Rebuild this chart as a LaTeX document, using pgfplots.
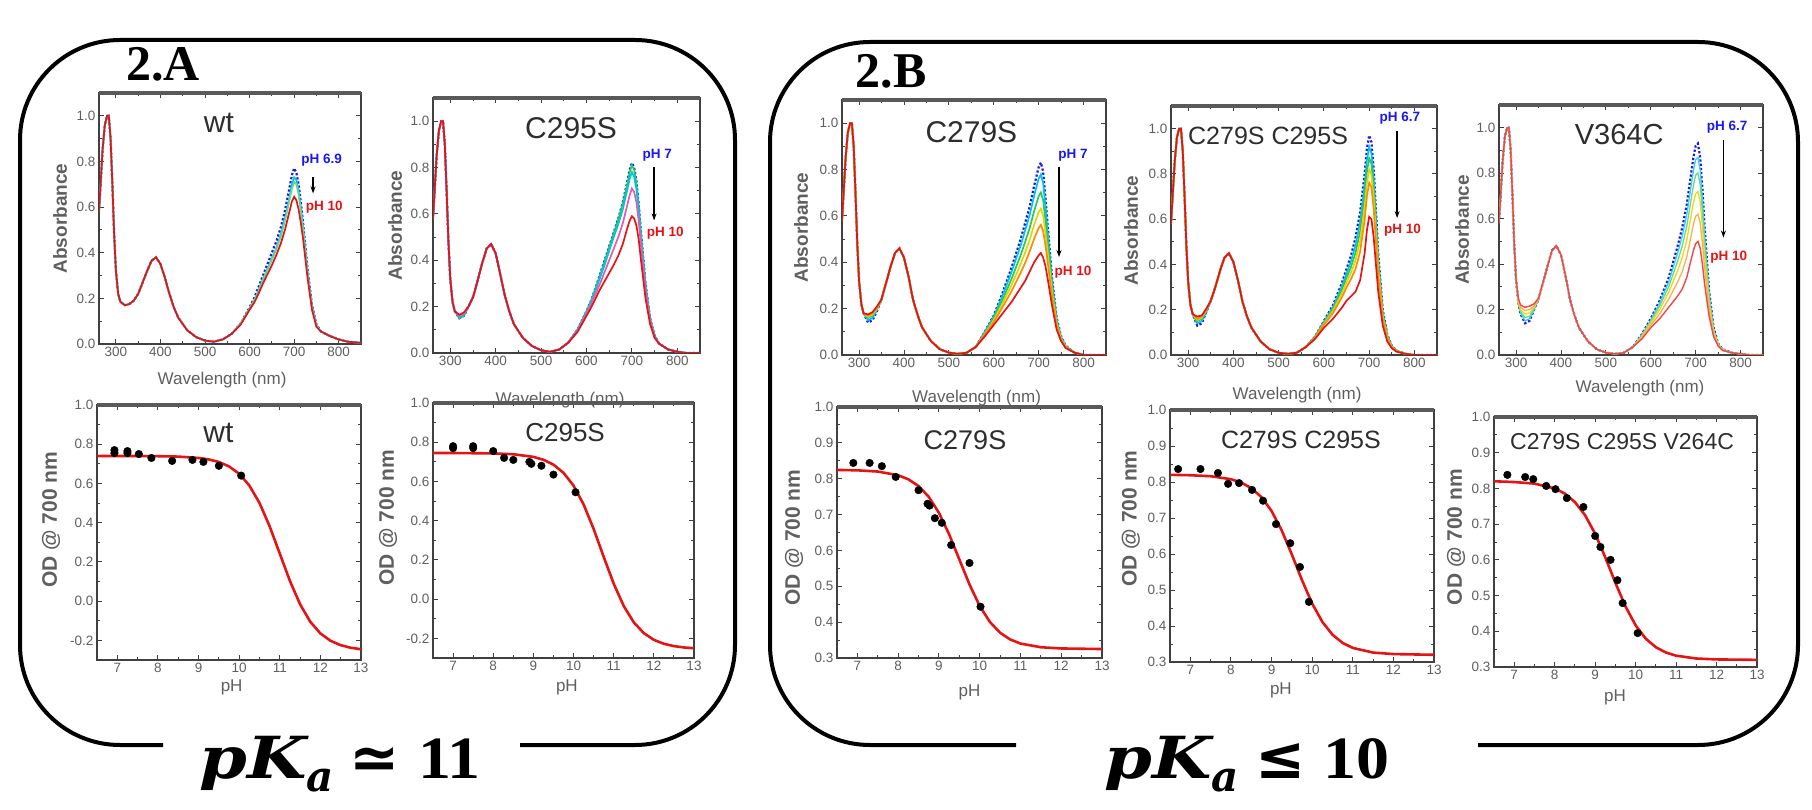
\documentclass[border=0pt]{standalone}
\usepackage{fontspec}
\usepackage{graphicx}
\usepackage{pgfplots}
\pgfplotsset{compat=1.18}
\usepackage{pgfplotstable}
\usetikzlibrary{arrows.meta}
\newfontfamily\arial{Liberation Sans}
\newfontfamily\tnr{Liberation Serif}
\newfontfamily\djv{DejaVu Sans}
\newfontfamily\djs{DejaVu Serif}

\definecolor{cBlue}{RGB}{25,25,235}
\definecolor{cCyan}{RGB}{0,195,235}
\definecolor{cGreen}{RGB}{40,200,90}
\definecolor{cYellow}{RGB}{225,215,0}
\definecolor{cOrange}{RGB}{255,140,0}
\definecolor{cRed}{RGB}{228,20,20}
\definecolor{cMag}{RGB}{230,90,175}
\definecolor{cSalmon}{RGB}{240,70,70}
\definecolor{axgray}{RGB}{95,95,95}
\definecolor{titlegray}{RGB}{45,45,45}

\pgfplotstableread{
wl b c g r
262 0.58 0.58 0.58 0.58
270 0.85 0.85 0.85 0.85
275 0.96 0.96 0.96 0.96
280 1.00 1.00 1.00 1.00
284 1.00 1.00 1.00 1.00
288 0.90 0.90 0.90 0.90
292 0.70 0.70 0.70 0.70
296 0.48 0.48 0.48 0.48
300 0.32 0.32 0.32 0.32
305 0.22 0.22 0.22 0.22
310 0.185 0.185 0.185 0.185
320 0.17 0.17 0.17 0.17
330 0.175 0.175 0.175 0.175
340 0.19 0.19 0.19 0.19
350 0.22 0.22 0.22 0.22
360 0.27 0.27 0.27 0.27
370 0.32 0.32 0.32 0.32
380 0.365 0.365 0.365 0.365
390 0.38 0.38 0.38 0.38
400 0.35 0.35 0.35 0.35
410 0.29 0.29 0.29 0.29
420 0.22 0.22 0.22 0.22
430 0.16 0.16 0.16 0.16
440 0.115 0.115 0.115 0.115
460 0.06 0.06 0.06 0.06
480 0.03 0.03 0.03 0.03
500 0.015 0.015 0.015 0.015
520 0.01 0.01 0.01 0.01
540 0.02 0.02 0.02 0.02
560 0.045 0.045 0.045 0.045
580 0.09 0.09 0.09 0.085
600 0.16 0.155 0.155 0.15
610 0.20 0.19 0.19 0.18
620 0.25 0.235 0.23 0.22
630 0.30 0.285 0.28 0.265
640 0.35 0.33 0.325 0.305
650 0.40 0.375 0.37 0.345
660 0.45 0.42 0.415 0.39
670 0.51 0.48 0.47 0.44
680 0.59 0.555 0.545 0.505
690 0.69 0.65 0.635 0.585
695 0.74 0.70 0.68 0.625
700 0.77 0.73 0.71 0.645
705 0.75 0.72 0.70 0.63
710 0.70 0.67 0.655 0.59
715 0.62 0.595 0.58 0.53
720 0.53 0.51 0.50 0.46
730 0.33 0.32 0.31 0.29
740 0.17 0.165 0.16 0.15
750 0.085 0.08 0.08 0.075
760 0.055 0.055 0.055 0.055
780 0.035 0.035 0.035 0.035
800 0.02 0.02 0.02 0.02
820 0.01 0.01 0.01 0.01
850 0.005 0.005 0.005 0.005
}\wtspec

\pgfplotstableread{
wl b g c m r
262 0.58 0.58 0.58 0.58 0.58
270 0.85 0.85 0.85 0.85 0.85
275 0.96 0.96 0.96 0.96 0.96
280 1.00 1.00 1.00 1.00 1.00
284 1.00 1.00 1.00 1.00 1.00
288 0.90 0.90 0.90 0.90 0.90
292 0.70 0.70 0.70 0.70 0.70
296 0.48 0.48 0.48 0.48 0.48
300 0.32 0.32 0.32 0.32 0.32
305 0.22 0.22 0.22 0.22 0.22
310 0.18 0.18 0.18 0.18 0.18
320 0.15 0.15 0.155 0.16 0.165
330 0.16 0.16 0.165 0.17 0.175
340 0.20 0.20 0.20 0.20 0.20
350 0.24 0.24 0.24 0.24 0.24
360 0.31 0.31 0.31 0.31 0.31
370 0.385 0.385 0.385 0.385 0.385
380 0.45 0.45 0.45 0.45 0.45
390 0.47 0.47 0.47 0.47 0.47
400 0.43 0.43 0.43 0.43 0.43
410 0.34 0.34 0.34 0.34 0.34
420 0.25 0.25 0.25 0.25 0.25
430 0.18 0.18 0.18 0.18 0.18
440 0.125 0.125 0.125 0.125 0.125
460 0.065 0.065 0.065 0.065 0.065
480 0.03 0.03 0.03 0.03 0.03
500 0.012 0.012 0.012 0.012 0.012
520 0.005 0.005 0.005 0.005 0.005
540 0.015 0.015 0.015 0.015 0.015
560 0.045 0.045 0.045 0.045 0.045
580 0.10 0.10 0.10 0.095 0.09
600 0.18 0.18 0.175 0.17 0.16
610 0.225 0.225 0.22 0.21 0.195
620 0.28 0.28 0.27 0.255 0.235
630 0.34 0.335 0.325 0.30 0.275
640 0.40 0.395 0.38 0.35 0.31
650 0.46 0.455 0.44 0.40 0.345
660 0.52 0.515 0.50 0.45 0.38
670 0.58 0.575 0.555 0.50 0.42
680 0.65 0.645 0.62 0.56 0.47
690 0.74 0.73 0.705 0.64 0.54
695 0.79 0.78 0.75 0.68 0.57
700 0.82 0.81 0.78 0.71 0.59
705 0.80 0.79 0.76 0.695 0.58
710 0.74 0.73 0.705 0.65 0.55
715 0.64 0.635 0.615 0.57 0.49
720 0.52 0.515 0.50 0.465 0.40
730 0.30 0.295 0.29 0.27 0.235
740 0.15 0.15 0.145 0.14 0.125
750 0.075 0.075 0.07 0.07 0.065
760 0.04 0.04 0.04 0.04 0.04
780 0.015 0.015 0.015 0.015 0.015
800 0.005 0.005 0.005 0.005 0.005
820 0.0 0.0 0.0 0.0 0.0
850 0.0 0.0 0.0 0.0 0.0
}\ctspec

\pgfplotstableread{
wl b c g y o r
262 0.58 0.58 0.58 0.58 0.58 0.58
270 0.85 0.85 0.85 0.85 0.85 0.85
275 0.96 0.96 0.96 0.96 0.96 0.96
280 1.00 1.00 1.00 1.00 1.00 1.00
284 1.00 1.00 1.00 1.00 1.00 1.00
288 0.90 0.90 0.90 0.90 0.90 0.90
292 0.70 0.70 0.70 0.70 0.70 0.70
296 0.48 0.48 0.48 0.48 0.48 0.48
300 0.32 0.32 0.32 0.32 0.32 0.32
305 0.22 0.22 0.22 0.22 0.22 0.22
310 0.18 0.18 0.18 0.18 0.18 0.18
320 0.14 0.15 0.16 0.165 0.17 0.175
330 0.15 0.16 0.17 0.175 0.18 0.185
340 0.19 0.195 0.20 0.20 0.205 0.21
350 0.24 0.24 0.24 0.24 0.24 0.24
360 0.31 0.31 0.31 0.31 0.31 0.31
370 0.38 0.38 0.38 0.38 0.38 0.38
380 0.44 0.44 0.44 0.44 0.44 0.44
390 0.46 0.46 0.46 0.46 0.46 0.46
400 0.42 0.42 0.42 0.42 0.42 0.42
410 0.34 0.34 0.34 0.34 0.34 0.34
420 0.24 0.24 0.24 0.24 0.24 0.24
430 0.175 0.175 0.175 0.175 0.175 0.175
440 0.12 0.12 0.12 0.12 0.12 0.12
460 0.06 0.06 0.06 0.06 0.06 0.06
480 0.025 0.025 0.025 0.025 0.025 0.025
500 0.01 0.01 0.01 0.01 0.01 0.01
520 0.005 0.005 0.005 0.005 0.005 0.005
540 0.01 0.01 0.01 0.01 0.01 0.01
560 0.035 0.035 0.035 0.035 0.035 0.035
580 0.10 0.10 0.09 0.09 0.09 0.08
600 0.17 0.165 0.157 0.15 0.142 0.13
610 0.22 0.212 0.199 0.187 0.175 0.155
620 0.27 0.258 0.24 0.224 0.208 0.18
630 0.325 0.309 0.285 0.264 0.242 0.205
640 0.38 0.36 0.33 0.304 0.277 0.23
650 0.44 0.417 0.381 0.348 0.316 0.26
660 0.50 0.473 0.431 0.393 0.355 0.29
670 0.57 0.538 0.488 0.443 0.398 0.32
680 0.64 0.604 0.548 0.497 0.447 0.36
690 0.73 0.687 0.621 0.562 0.502 0.40
700 0.81 0.761 0.685 0.616 0.548 0.43
705 0.83 0.779 0.701 0.631 0.561 0.44
710 0.79 0.742 0.668 0.601 0.535 0.42
715 0.68 0.642 0.583 0.53 0.476 0.385
720 0.56 0.53 0.484 0.443 0.401 0.33
730 0.33 0.314 0.29 0.269 0.247 0.21
740 0.16 0.154 0.144 0.135 0.126 0.11
750 0.08 0.077 0.073 0.07 0.066 0.06
760 0.04 0.039 0.037 0.035 0.033 0.03
780 0.01 0.01 0.01 0.01 0.01 0.01
800 0.0 0.0 0.0 0.0 0.0 0.0
820 0.0 0.0 0.0 0.0 0.0 0.0
850 0.0 0.0 0.0 0.0 0.0 0.0
}\asspec

\pgfplotstableread{
wl b c g y o r
262 0.58 0.58 0.58 0.58 0.58 0.58
270 0.85 0.85 0.85 0.85 0.85 0.85
275 0.96 0.96 0.96 0.96 0.96 0.96
280 1.00 1.00 1.00 1.00 1.00 1.00
284 1.00 1.00 1.00 1.00 1.00 1.00
288 0.90 0.90 0.90 0.90 0.90 0.90
292 0.70 0.70 0.70 0.70 0.70 0.70
296 0.48 0.48 0.48 0.48 0.48 0.48
300 0.32 0.32 0.32 0.32 0.32 0.32
305 0.22 0.22 0.22 0.22 0.22 0.22
310 0.18 0.18 0.18 0.18 0.18 0.18
320 0.13 0.14 0.15 0.155 0.16 0.17
330 0.14 0.15 0.16 0.165 0.17 0.175
340 0.19 0.19 0.195 0.20 0.20 0.205
350 0.24 0.24 0.24 0.24 0.24 0.24
360 0.30 0.30 0.30 0.30 0.30 0.30
370 0.37 0.37 0.37 0.37 0.37 0.37
380 0.43 0.43 0.43 0.43 0.43 0.43
390 0.45 0.45 0.45 0.45 0.45 0.45
400 0.41 0.41 0.41 0.41 0.41 0.41
410 0.33 0.33 0.33 0.33 0.33 0.33
420 0.235 0.235 0.235 0.235 0.235 0.235
430 0.17 0.17 0.17 0.17 0.17 0.17
440 0.12 0.12 0.12 0.12 0.12 0.12
460 0.06 0.06 0.06 0.06 0.06 0.06
480 0.025 0.025 0.025 0.025 0.025 0.025
500 0.01 0.01 0.01 0.01 0.01 0.01
520 0.005 0.005 0.005 0.005 0.005 0.005
540 0.01 0.01 0.01 0.01 0.01 0.01
560 0.035 0.035 0.035 0.035 0.035 0.035
580 0.08 0.08 0.08 0.075 0.075 0.07
600 0.15 0.146 0.142 0.137 0.133 0.12
620 0.22 0.212 0.203 0.195 0.185 0.16
640 0.32 0.305 0.289 0.274 0.256 0.21
650 0.38 0.36 0.341 0.321 0.299 0.24
660 0.44 0.415 0.39 0.364 0.336 0.26
670 0.52 0.486 0.453 0.419 0.381 0.28
680 0.63 0.588 0.546 0.504 0.456 0.33
690 0.80 0.751 0.702 0.653 0.597 0.45
695 0.91 0.86 0.809 0.759 0.701 0.55
700 0.97 0.92 0.869 0.819 0.761 0.61
705 0.94 0.892 0.845 0.797 0.743 0.60
710 0.82 0.778 0.736 0.694 0.646 0.52
715 0.64 0.606 0.573 0.539 0.501 0.40
720 0.45 0.426 0.402 0.379 0.351 0.28
730 0.20 0.19 0.18 0.171 0.159 0.13
740 0.09 0.086 0.082 0.077 0.073 0.06
750 0.04 0.039 0.037 0.036 0.034 0.03
760 0.02 0.02 0.019 0.018 0.017 0.015
780 0.005 0.005 0.005 0.005 0.005 0.005
800 0.0 0.0 0.0 0.0 0.0 0.0
820 0.0 0.0 0.0 0.0 0.0 0.0
850 0.0 0.0 0.0 0.0 0.0 0.0
}\ddspec

\pgfplotstableread{
wl b c g y o r
262 0.58 0.58 0.58 0.58 0.58 0.58
270 0.85 0.85 0.85 0.85 0.85 0.85
275 0.96 0.96 0.96 0.96 0.96 0.96
280 1.00 1.00 1.00 1.00 1.00 1.00
284 1.00 1.00 1.00 1.00 1.00 1.00
288 0.90 0.90 0.90 0.90 0.90 0.90
292 0.70 0.70 0.70 0.70 0.70 0.70
296 0.48 0.48 0.48 0.48 0.48 0.48
300 0.33 0.33 0.33 0.33 0.33 0.33
305 0.23 0.23 0.23 0.23 0.24 0.25
310 0.18 0.185 0.19 0.20 0.21 0.22
320 0.14 0.15 0.165 0.18 0.195 0.21
330 0.15 0.16 0.17 0.185 0.20 0.215
340 0.20 0.20 0.205 0.21 0.215 0.225
350 0.245 0.245 0.245 0.245 0.245 0.25
360 0.32 0.32 0.32 0.32 0.32 0.32
370 0.39 0.39 0.39 0.39 0.39 0.39
380 0.46 0.46 0.46 0.46 0.46 0.46
390 0.48 0.48 0.48 0.48 0.48 0.48
400 0.44 0.44 0.44 0.44 0.44 0.44
410 0.35 0.35 0.35 0.35 0.35 0.35
420 0.245 0.245 0.245 0.245 0.245 0.245
430 0.175 0.175 0.175 0.175 0.175 0.175
440 0.12 0.12 0.12 0.12 0.12 0.12
460 0.06 0.06 0.06 0.06 0.06 0.06
480 0.025 0.025 0.025 0.025 0.025 0.025
500 0.01 0.01 0.01 0.01 0.01 0.01
520 0.005 0.005 0.005 0.005 0.005 0.005
540 0.01 0.01 0.01 0.01 0.01 0.01
560 0.035 0.035 0.035 0.035 0.035 0.035
580 0.09 0.087 0.084 0.08 0.076 0.07
600 0.16 0.154 0.148 0.14 0.131 0.12
620 0.24 0.229 0.216 0.201 0.182 0.16
640 0.34 0.322 0.301 0.276 0.246 0.21
650 0.41 0.386 0.358 0.324 0.284 0.235
660 0.48 0.449 0.414 0.372 0.322 0.26
670 0.56 0.522 0.479 0.428 0.366 0.29
680 0.66 0.615 0.564 0.503 0.43 0.34
690 0.80 0.747 0.686 0.614 0.526 0.42
695 0.87 0.813 0.747 0.669 0.575 0.46
700 0.92 0.86 0.791 0.709 0.61 0.49
705 0.93 0.87 0.801 0.719 0.62 0.50
710 0.87 0.814 0.75 0.674 0.582 0.47
715 0.73 0.684 0.631 0.568 0.492 0.40
720 0.56 0.525 0.485 0.438 0.38 0.31
730 0.28 0.265 0.247 0.226 0.201 0.17
740 0.12 0.114 0.108 0.10 0.091 0.08
750 0.05 0.049 0.047 0.045 0.043 0.04
760 0.025 0.024 0.024 0.023 0.021 0.02
780 0.01 0.01 0.01 0.01 0.01 0.01
800 0.005 0.005 0.005 0.005 0.005 0.005
820 0.0 0.0 0.0 0.0 0.0 0.0
850 0.0 0.0 0.0 0.0 0.0 0.0
}\vcspec

\pgfplotsset{
  base/.style={
    scale only axis, anchor=south west,
    axis line style={black!75, line width=1.5pt},
    every tick/.style={black!75, line width=0.9pt},
    major tick length=5pt, minor tick length=3pt,
    tick label style={font=\arial\fontsize{13.5}{15}\selectfont, text=axgray},
    /pgf/number format/assume math mode=true,
    xlabel style={font=\arial\fontsize{17}{19}\selectfont, text=axgray, anchor=center},
    ylabel style={font=\arial\bfseries\fontsize{19}{21}\selectfont, text=axgray, anchor=center},
    after end axis/.code={\draw[line width=3.4pt, black!65] (rel axis cs:0,1) -- (rel axis cs:1,1);},
  },
  spec/.style={base, xmin=262, xmax=850, ymin=0, ymax=1.1,
    xtick={300,400,500,600,700,800}, ytick={0,0.2,0.4,0.6,0.8,1.0},
    minor x tick num=1, minor y tick num=1,
    xlabel={Wavelength (nm)}, ylabel={Absorbance},
    yticklabel style={/pgf/number format/.cd, fixed, fixed zerofill, precision=1}},
  phA/.style={base, xmin=6.5, xmax=13, ymin=-0.3, ymax=1.0,
    xtick={7,8,9,10,11,12,13}, ytick={-0.2,0,0.2,0.4,0.6,0.8,1.0},
    minor x tick num=1, minor y tick num=1,
    xlabel={pH}, ylabel={OD @ 700 nm},
    ylabel style={font=\arial\bfseries\fontsize{21}{23}\selectfont},
    yticklabel style={/pgf/number format/.cd, fixed, fixed zerofill, precision=1}},
  phB/.style={base, xmin=6.5, xmax=13, ymin=0.3, ymax=1.0,
    xtick={7,8,9,10,11,12,13}, ytick={0.3,0.4,0.5,0.6,0.7,0.8,0.9,1.0},
    minor x tick num=1, minor y tick num=1,
    xlabel={pH}, ylabel={OD @ 700 nm},
    ylabel style={font=\arial\bfseries\fontsize{21}{23}\selectfont},
    yticklabel style={/pgf/number format/.cd, fixed, fixed zerofill, precision=1}},
  sp/.style={no marks, line width=1.7pt},
  spd/.style={no marks, line width=2.2pt, dotted, cBlue},
  fitc/.style={no marks, cRed, line width=2.6pt},
  pts/.style={only marks, mark=*, mark size=3.8pt, black},
}
\tikzset{
  ttl/.style={font=\arial\fontsize{#1}{#1}\selectfont, text=titlegray},
  phb/.style={font=\arial\bfseries\fontsize{13.5}{14}\selectfont, text=cBlue},
  phr/.style={font=\arial\bfseries\fontsize{13.5}{14}\selectfont, text=cRed},
  arr/.style={-{Stealth[length=7pt,width=5pt]}, line width=1.3pt, black},
}
\newcommand\pka[2]{{\djs\bfseries\itshape\fontsize{58}{60}\selectfont\scalebox{1.18}[1]{pK}\raisebox{-0.24em}{\fontsize{42}{42}\selectfont a}}\hspace{16pt}{\djv\bfseries\fontsize{60}{60}\selectfont #1}\hspace{18pt}{\tnr\bfseries\fontsize{60}{62}\selectfont\scalebox{1.1}[1]{#2}}}

\begin{document}
\begin{tikzpicture}
\path[use as bounding box] (0pt,0pt) rectangle (1812pt,809pt);

% boxes
\draw[line width=4pt, rounded corners=100pt] (163pt,64pt) -- (20pt,64pt) -- (20pt,769pt) -- (735pt,769pt) -- (735pt,64pt) -- (520pt,64pt);
\draw[line width=4pt, rounded corners=100pt] (1016pt,64pt) -- (770pt,64pt) -- (770pt,767pt) -- (1798pt,767pt) -- (1798pt,64pt) -- (1478pt,64pt);

\node[font=\tnr\bfseries\fontsize{50}{52}\selectfont] at (163pt,745pt) {2.A};
\node[font=\tnr\bfseries\fontsize{50}{52}\selectfont] at (891pt,738pt) {2.B};

\node[anchor=base, inner sep=0pt] at (340pt,31pt) {\pka{≃}{11}};
\node[anchor=base, inner sep=0pt] at (1247pt,31pt) {\pka{≤}{10}};

% ---------- spectra ----------
\begin{axis}[spec, at={(99pt,465pt)}, width=262pt, height=251pt,
  ylabel style={at={(axis description cs:-0.149,0.5)}},
  xlabel style={at={(axis description cs:0.47,-0.143)}}]
\addplot[spd] table[x=wl,y=b]{\wtspec};
\addplot[sp,cCyan] table[x=wl,y=c]{\wtspec};
\addplot[sp,cGreen!70] table[x=wl,y=g]{\wtspec};
\addplot[sp,cRed] table[x=wl,y=r]{\wtspec};
\node[ttl=30] at (rel axis cs:0.458,0.88) {wt};
\node[phb] at (rel axis cs:0.85,0.733) {pH 6.9};
\node[phr] at (rel axis cs:0.86,0.546) {pH 10};
\draw[arr] (rel axis cs:0.817,0.665) -- (rel axis cs:0.817,0.60);
\end{axis}

\begin{axis}[spec, at={(433pt,456pt)}, width=267pt, height=255pt,
  ylabel style={at={(axis description cs:-0.142,0.5)}},
  xlabel style={at={(axis description cs:0.476,-0.184)}}]
\addplot[spd] table[x=wl,y=b]{\ctspec};
\addplot[sp,cGreen] table[x=wl,y=g]{\ctspec};
\addplot[sp,cCyan] table[x=wl,y=c]{\ctspec};
\addplot[sp,cMag] table[x=wl,y=m]{\ctspec};
\addplot[sp,cRed] table[x=wl,y=r]{\ctspec};
\node[ttl=30] at (rel axis cs:0.517,0.88) {C295S};
\node[phb] at (rel axis cs:0.84,0.776) {pH 7};
\node[phr] at (rel axis cs:0.87,0.47) {pH 10};
\draw[arr] (rel axis cs:0.828,0.73) -- (rel axis cs:0.828,0.52);
\end{axis}

\begin{axis}[spec, at={(842pt,454pt)}, width=264pt, height=255pt,
  ylabel style={at={(axis description cs:-0.155,0.5)}},
  xlabel style={at={(axis description cs:0.51,-0.169)}}]
\addplot[spd] table[x=wl,y=b]{\asspec};
\addplot[sp,cCyan] table[x=wl,y=c]{\asspec};
\addplot[sp,cGreen] table[x=wl,y=g]{\asspec};
\addplot[sp,cYellow] table[x=wl,y=y]{\asspec};
\addplot[sp,cOrange] table[x=wl,y=o]{\asspec};
\addplot[sp,cRed] table[x=wl,y=r]{\asspec};
\node[ttl=30] at (rel axis cs:0.49,0.875) {C279S};
\node[phb] at (rel axis cs:0.875,0.784) {pH 7};
\node[phr] at (rel axis cs:0.875,0.325) {pH 10};
\draw[arr] (rel axis cs:0.822,0.737) -- (rel axis cs:0.822,0.384);
\end{axis}

\begin{axis}[spec, at={(1171pt,454pt)}, width=266pt, height=249pt,
  ylabel style={at={(axis description cs:-0.15,0.5)}},
  xlabel style={at={(axis description cs:0.474,-0.161)}}]
\addplot[spd] table[x=wl,y=b]{\ddspec};
\addplot[sp,cCyan] table[x=wl,y=c]{\ddspec};
\addplot[sp,cGreen] table[x=wl,y=g]{\ddspec};
\addplot[sp,cYellow] table[x=wl,y=y]{\ddspec};
\addplot[sp,cOrange] table[x=wl,y=o]{\ddspec};
\addplot[sp,cRed] table[x=wl,y=r]{\ddspec};
\node[ttl=25] at (rel axis cs:0.365,0.88) {C279S C295S};
\node[phb] at (rel axis cs:0.86,0.95) {pH 6.7};
\node[phr] at (rel axis cs:0.87,0.50) {pH 10};
\draw[arr] (rel axis cs:0.85,0.90) -- (rel axis cs:0.85,0.55);
\end{axis}

\begin{axis}[spec, at={(1499pt,454pt)}, width=264pt, height=250pt,
  ylabel style={at={(axis description cs:-0.14,0.5)}},
  xlabel style={at={(axis description cs:0.534,-0.132)}}]
\addplot[spd] table[x=wl,y=b]{\vcspec};
\addplot[sp,cCyan!80,line width=1.3pt] table[x=wl,y=c]{\vcspec};
\addplot[sp,cGreen!70,line width=1.3pt] table[x=wl,y=g]{\vcspec};
\addplot[sp,cYellow!90,line width=1.3pt] table[x=wl,y=y]{\vcspec};
\addplot[sp,cOrange!70,line width=1.3pt] table[x=wl,y=o]{\vcspec};
\addplot[sp,cSalmon,line width=1.4pt] table[x=wl,y=r]{\vcspec};
\node[ttl=29] at (rel axis cs:0.455,0.88) {V364C};
\node[phb] at (rel axis cs:0.864,0.91) {pH 6.7};
\node[phr] at (rel axis cs:0.87,0.39) {pH 10};
\draw[arr] (rel axis cs:0.85,0.86) -- (rel axis cs:0.85,0.47);
\end{axis}

% ---------- titrations ----------
\begin{axis}[phA, at={(97pt,149pt)}, width=264pt, height=255pt,
  ylabel style={at={(axis description cs:-0.174,0.55)}},
  xlabel style={at={(axis description cs:0.51,-0.106)}}]
\addplot[fitc] coordinates {(6.5,0.740) (7,0.740) (7.5,0.740) (8,0.739) (8.5,0.737) (9,0.730) (9.25,0.7226) (9.5,0.7095) (9.75,0.687) (10,0.6495) (10.25,0.5898) (10.5,0.501) (10.75,0.382) (11,0.2425) (11.25,0.1032) (11.5,-0.0159) (11.75,-0.1048) (12,-0.1645) (12.25,-0.202) (12.5,-0.2245) (12.75,-0.2376) (13,-0.2451)};
\addplot[pts] coordinates {(6.93,0.77) (6.93,0.755) (7.25,0.765) (7.25,0.755) (7.53,0.75) (7.84,0.73) (8.35,0.715) (8.85,0.72) (9.12,0.71) (9.5,0.69) (10.05,0.64)};
\node[ttl=30] at (rel axis cs:0.46,0.89) {wt};
\end{axis}

\begin{axis}[phA, at={(433pt,151pt)}, width=261pt, height=255pt,
  ylabel style={at={(axis description cs:-0.172,0.55)}},
  xlabel style={at={(axis description cs:0.513,-0.114)}}]
\addplot[fitc] coordinates {(6.5,0.745) (7,0.745) (7.5,0.744) (8,0.743) (8.5,0.7387) (9,0.7254) (9.25,0.7107) (9.5,0.6857) (9.75,0.6441) (10,0.5787) (10.25,0.4831) (10.5,0.3581) (10.75,0.2163) (11,0.0789) (11.25,-0.0351) (11.5,-0.1182) (11.75,-0.1732) (12,-0.2073) (12.25,-0.2276) (12.5,-0.2394) (12.75,-0.2462) (13,-0.25)};
\addplot[pts] coordinates {(7.0,0.78) (7.0,0.77) (7.5,0.78) (7.5,0.77) (8.0,0.755) (8.27,0.72) (8.5,0.71) (8.9,0.70) (8.95,0.69) (9.2,0.68) (9.5,0.635) (10.05,0.545)};
\node[ttl=26] at (rel axis cs:0.506,0.886) {C295S};
\end{axis}

\begin{axis}[phB, at={(837pt,151pt)}, width=265pt, height=251pt,
  ylabel style={at={(axis description cs:-0.162,0.48)}},
  xlabel style={at={(axis description cs:0.50,-0.139)}}]
\addplot[fitc] coordinates {(6.5,0.8245) (7,0.8234) (7.5,0.820) (8,0.8097) (8.25,0.7984) (8.5,0.7795) (8.75,0.7495) (9,0.7049) (9.25,0.645) (9.5,0.575) (9.75,0.505) (10,0.4451) (10.25,0.4005) (10.5,0.3705) (10.75,0.3516) (11,0.3403) (11.5,0.330) (12,0.3266) (13,0.325)};
\addplot[pts] coordinates {(6.9,0.844) (7.3,0.844) (7.6,0.835) (7.94,0.805) (8.5,0.768) (8.72,0.73) (8.77,0.725) (8.9,0.69) (9.07,0.677) (9.3,0.615) (9.75,0.565) (10.02,0.443)};
\node[ttl=27] at (rel axis cs:0.483,0.869) {C279S};
\end{axis}

\begin{axis}[phB, at={(1170pt,147pt)}, width=264pt, height=252pt,
  ylabel style={at={(axis description cs:-0.148,0.57)}},
  xlabel style={at={(axis description cs:0.42,-0.111)}}]
\addplot[fitc] coordinates {(6.5,0.82) (7,0.8188) (7.5,0.8161) (8,0.8078) (8.25,0.7986) (8.5,0.7832) (8.75,0.7581) (9,0.7196) (9.25,0.6656) (9.5,0.5986) (9.75,0.5273) (10,0.4624) (10.25,0.4115) (10.5,0.3759) (10.75,0.353) (11,0.3391) (11.5,0.3262) (12,0.322) (13,0.32)};
\addplot[pts] coordinates {(6.7,0.836) (7.25,0.836) (7.68,0.825) (7.93,0.795) (8.2,0.797) (8.52,0.778) (8.79,0.748) (9.11,0.683) (9.46,0.63) (9.7,0.564) (9.92,0.467)};
\node[ttl=25] at (rel axis cs:0.496,0.88) {C279S C295S};
\end{axis}

\begin{axis}[phB, at={(1494pt,142pt)}, width=263pt, height=250pt,
  ylabel style={at={(axis description cs:-0.144,0.52)}},
  xlabel style={at={(axis description cs:0.46,-0.12)}}]
\addplot[fitc] coordinates {(6.5,0.82) (7,0.8179) (7.5,0.8135) (8,0.80) (8.25,0.7855) (8.5,0.7618) (8.75,0.7251) (9,0.6729) (9.25,0.6071) (9.5,0.5357) (9.75,0.4695) (10,0.4167) (10.25,0.3794) (10.5,0.3553) (10.75,0.3405) (11,0.3317) (11.5,0.3238) (12,0.3212) (13,0.32)};
\addplot[pts] coordinates {(6.83,0.838) (7.27,0.832) (7.47,0.826) (7.79,0.807) (8.02,0.798) (8.3,0.773) (8.71,0.748) (9.0,0.667) (9.13,0.636) (9.38,0.60) (9.55,0.543) (9.68,0.479) (10.05,0.395)};
\node[ttl=23] at (rel axis cs:0.487,0.90) {C279S C295S V264C};
\end{axis}
\end{tikzpicture}
\end{document}
